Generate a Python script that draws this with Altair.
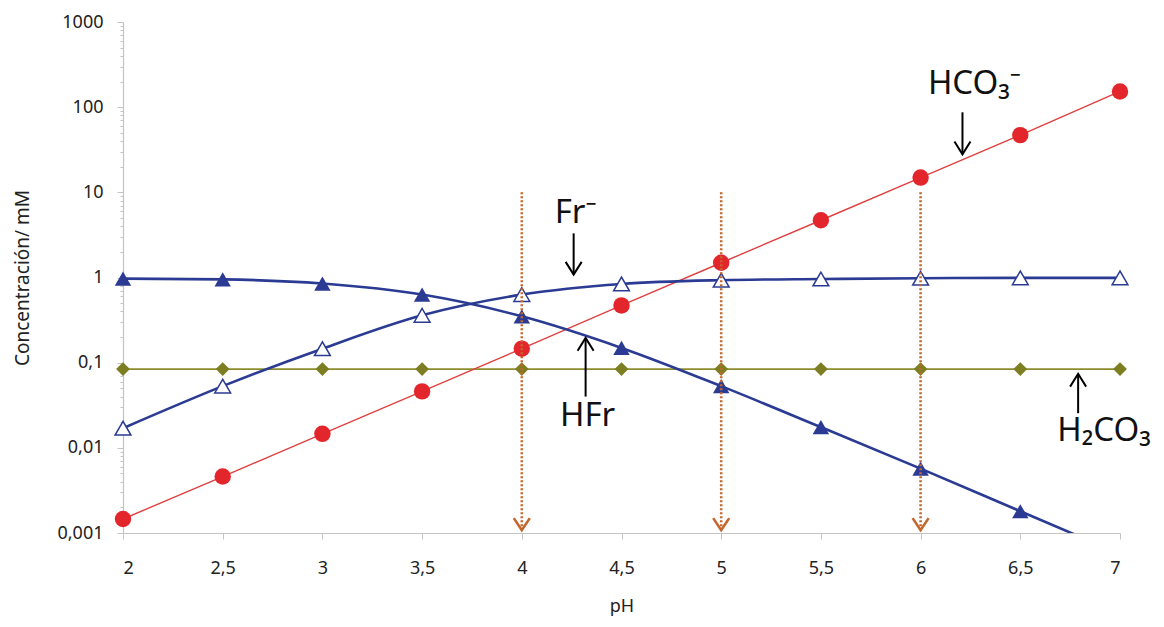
import altair as alt
import pandas as pd

# ---------------- data ----------------
ph = [2, 2.5, 3, 3.5, 4, 4.5, 5, 5.5, 6, 6.5, 7]
hco3 = [0.00146, 0.0046, 0.0146, 0.046, 0.146, 0.47, 1.49, 4.7, 14.9, 47, 153]
h2co3 = [0.084, 0.084, 0.084, 0.084, 0.084, 0.084, 0.084, 0.084, 0.084, 0.084, 0.084]
hfr = [0.97, 0.95, 0.85, 0.63, 0.35, 0.149, 0.053, 0.0175, 0.0057, 0.0018, 0.00057]
fr = [0.017, 0.053, 0.146, 0.36, 0.63, 0.84, 0.93, 0.96, 0.98, 0.99, 0.99]

series_names = ["HCO3", "H2CO3", "HFr", "Fr"]

# dotted reference arrows (pH values, top and bottom concentration)
ref_ph = [4, 5, 6]
ref_top = [10, 10, 10]
ref_tip = [0.00108, 0.00108, 0.00108]

# annotation labels and arrows
ann_text = ["HCO₃⁻", "Fr⁻", "HFr", "H₂CO₃"]
ann_ph = [6.27, 4.27, 4.33, 6.92]
ann_val = [185, 5.7, 0.0236, 0.0158]
arr_ph = [6.21, 4.26, 4.32, 6.79]
arr_from = [87, 3.3, 0.040, 0.0255]
arr_tip = [28, 1.08, 0.195, 0.074]
arr_dir = ["down", "down", "up", "up"]

x_ticks = [2, 2.5, 3, 3.5, 4, 4.5, 5, 5.5, 6, 6.5, 7]
y_major = [0.001, 0.01, 0.1, 1, 10, 100, 1000]
y_minor = [m * d for d in [0.001, 0.01, 0.1, 1, 10, 100] for m in range(2, 10)]

# ---------------- tables ----------------
df = pd.DataFrame({
    "pH": ph * 4,
    "v": hco3 + h2co3 + hfr + fr,
    "serie": sum([[s] * len(ph) for s in series_names], []),
})
ref_df = pd.DataFrame({"pH": ref_ph, "top": ref_top, "tip": ref_tip})
ann_df = pd.DataFrame({"pH": ann_ph, "v": ann_val, "t": ann_text})
arr_df = pd.DataFrame({"pH": arr_ph, "v0": arr_from, "v": arr_tip, "dir": arr_dir})

FONT = "Noto Sans"

xs = alt.Scale(domain=[2, 7], nice=False, zero=False)
ys = alt.Scale(type="log", domain=[0.001, 1000], nice=False)

major_test = "abs(log(datum.value)/LN10 - round(log(datum.value)/LN10)) < 1e-6"

xaxis = alt.Axis(values=x_ticks, labelExpr="replace(format(datum.value, '~g'), '.', ',')",
                 tickSize=6, labelPadding=20, titlePadding=20, grid=False)
yaxis = alt.Axis(values=sorted(y_major + y_minor),
                 labelExpr=major_test + " ? replace(format(datum.value, '~g'), '.', ',') : ''",
                 tickSize={"condition": {"test": major_test, "value": 6}, "value": 3},
                 labelPadding=14, titlePadding=24, titleFontSize=19, grid=False)

X = alt.X("pH:Q", scale=xs, axis=xaxis, title="pH")
Y = alt.Y("v:Q", scale=ys, axis=yaxis, title="Concentración/ mM")

base = alt.Chart(df)

def sel(name):
    return base.transform_filter(alt.datum.serie == name)

RED = "#e3262b"
BLUE = "#2b3b93"
OLIVE = "#7d7d22"
ORANGE = "#c4672f"

l_h2co3 = sel("H2CO3").mark_line(color="#8c8c2c", strokeWidth=1.6).encode(x=X, y=Y)
l_hco3 = sel("HCO3").mark_line(color="#e0413f", strokeWidth=1.4).encode(x=X, y=Y)
l_hfr = sel("HFr").mark_line(color=BLUE, strokeWidth=2.6, interpolate="monotone", clip=True).encode(x=X, y=Y)
l_fr = sel("Fr").mark_line(color=BLUE, strokeWidth=2.6, interpolate="monotone").encode(x=X, y=Y)

p_h2co3 = sel("H2CO3").mark_point(shape="diamond", filled=True, color=OLIVE, size=190, opacity=1).encode(x=X, y=Y)
p_hco3 = sel("HCO3").mark_point(shape="circle", filled=True, color=RED, size=270, opacity=1).encode(x=X, y=Y)
p_hfr = sel("HFr").transform_filter(alt.datum.v >= 0.001).mark_point(
    shape="triangle-up", filled=True, color=BLUE, size=270, opacity=1).encode(x=X, y=Y)
p_fr = sel("Fr").mark_point(shape="triangle-up", filled=True, fill="white", stroke=BLUE,
                            strokeWidth=1.5, size=250, opacity=1).encode(x=X, y=Y)

refs = alt.Chart(ref_df)
r_lines = refs.mark_rule(color=ORANGE, strokeWidth=2.6, strokeDash=[2, 2]).encode(
    x="pH:Q", y=alt.Y("top:Q"), y2="tip:Q")
r_heads = refs.mark_point(shape="M-1,-1.5L0,0L1,-1.5", filled=False, color=ORANGE,
                          strokeWidth=2.6, size=256, opacity=1).encode(x="pH:Q", y=alt.Y("tip:Q"))

arrs = alt.Chart(arr_df)
a_lines = arrs.mark_rule(color="black", strokeWidth=2).encode(x="pH:Q", y="v0:Q", y2="v:Q")
a_down = arrs.transform_filter(alt.datum.dir == "down").mark_point(
    shape="M-1,-1.6L0,0L1,-1.6", filled=False, color="black", strokeWidth=2, size=256, opacity=1
).encode(x="pH:Q", y="v:Q")
a_up = arrs.transform_filter(alt.datum.dir == "up").mark_point(
    shape="M-1,1.6L0,0L1,1.6", filled=False, color="black", strokeWidth=2, size=256, opacity=1
).encode(x="pH:Q", y="v:Q")

labels = alt.Chart(ann_df).mark_text(font=FONT, fontSize=33, color="#111", baseline="middle").encode(
    x="pH:Q", y="v:Q", text="t:N")

chart = alt.layer(
    l_h2co3, l_hco3, l_hfr, l_fr,
    p_h2co3, p_hco3, p_hfr, p_fr,
    r_lines, r_heads, a_lines, a_down, a_up, labels,
).properties(
    width=997, height=511,
    autosize=alt.AutoSizeParams(type="none"),
    padding={"left": 115, "top": 14, "right": 36, "bottom": 90},
).configure_view(stroke=None).configure_axis(
    domainColor="#c4c4c4", tickColor="#c4c4c4", labelColor="#222", titleColor="#222",
    labelFont=FONT, titleFont=FONT, labelFontSize=18, titleFontSize=18,
    titleFontWeight="normal", domainWidth=1.2,
)

chart.save("out.html", embed_options={"renderer": "svg", "actions": False})
